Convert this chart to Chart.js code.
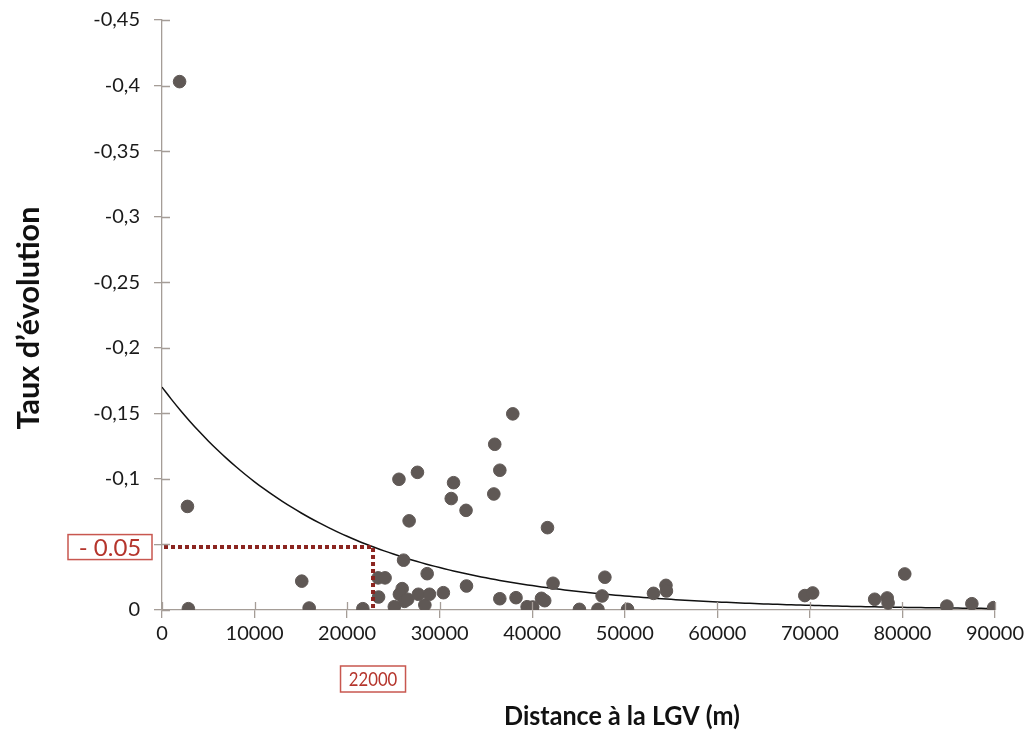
<!DOCTYPE html>
<html>
<head>
<meta charset="utf-8">
<script src="https://cdn.jsdelivr.net/npm/chart.js@4"></script>
<style>
  html, body { margin: 0; padding: 0; background: #fff; }
  canvas { display: block; }
</style>
</head>
<body>
<canvas id="myChart" width="1028" height="731"></canvas>
<script>
// distance to the LGV (m) and rate of change
const distances = [1900, 2750, 2850, 15100, 15900, 21700, 23350, 24100, 23400, 25100,
  25600, 26100, 25950, 25650, 26200, 26550, 26700, 27600, 27700, 28650,
  28400, 28900, 30400, 31250, 31500, 32850, 32900, 35850, 35950, 36500,
  36500, 37900, 38250, 39450, 40050, 40000, 41000, 41350, 41650, 42250,
  45100, 47100, 47850, 47550, 50300, 53100, 54450, 54500, 69450, 70300,
  77000, 78350, 78450, 80250, 84800, 87500, 89850];
const rates = [-0.403, -0.079, -0.001, -0.022, -0.0015, -0.001, -0.0245, -0.0245, -0.0099, -0.0025,
  -0.0997, -0.038, -0.0163, -0.012, -0.0066, -0.0082, -0.068, -0.105, -0.012, -0.0277,
  -0.0038, -0.012, -0.0132, -0.085, -0.0971, -0.076, -0.0183, -0.0885, -0.1264, -0.1066,
  -0.0086, -0.1496, -0.0094, -0.0025, -0.0023, -0.0003, -0.0089, -0.0071, -0.0628, -0.0204,
  -0.0005, -0.0005, -0.025, -0.0107, -0.0005, -0.0127, -0.0188, -0.0145, -0.011, -0.013,
  -0.0082, -0.0092, -0.0053, -0.0275, -0.003, -0.0048, -0.0018];

// exponential trendline y = a * exp(b * x)
const trendA = -0.17;
const trendB = -0.0000553;

// reading marked on the chart
const markX = 22800;
const markY = -0.048;
const markXLabel = '22000';
const markYLabel = '- 0.05';

const xTitle = 'Distance à la LGV (m)';
const yTitle = 'Taux d’évolution';

const points = [];
for (let i in distances) {
  points.push({x: distances[i], y: rates[i]});
}
const trend = [];
for (let x = 0; x <= 90000; x += 1000) {
  trend.push({x: x, y: trendA * Math.exp(trendB * x)});
}

const axisColor = '#a59d97';
const markColor = '#8b2520';
const boxColor = '#c8574f';

// ticks in Excel cross the axis line, draw the inner half too
const crossTicks = {
  id: 'crossTicks',
  afterDraw(chart) {
    const c = chart.ctx;
    const xs = chart.scales.x, ys = chart.scales.y;
    c.save();
    c.strokeStyle = axisColor;
    c.lineWidth = 1.3;
    c.beginPath();
    xs.ticks.forEach(t => {
      const px = Math.round(xs.getPixelForValue(t.value)) + 0.5;
      c.moveTo(px, ys.bottom - 8);
      c.lineTo(px, ys.bottom);
    });
    ys.ticks.forEach(t => {
      const py = Math.round(ys.getPixelForValue(t.value)) + 0.5;
      c.moveTo(xs.left, py);
      c.lineTo(xs.left + 8, py);
    });
    c.stroke();

    // axis titles (a bit narrower than Lato, like the original font)
    c.fillStyle = '#111';
    c.textAlign = 'center';
    c.textBaseline = 'middle';
    c.font = 'bold 27px Lato';
    c.save();
    c.translate(622, 716);
    c.scale(0.93, 1);
    c.fillText(xTitle, 0, 0);
    c.restore();
    c.font = 'bold 30px Lato';
    c.save();
    c.translate(29, 318);
    c.rotate(-Math.PI / 2);
    c.scale(1.02, 1);
    c.fillText(yTitle, 0, 0);
    c.restore();
    c.restore();
  }
};

const markPlugin = {
  id: 'markPlugin',
  afterDatasetsDraw(chart) {
    const c = chart.ctx;
    const xs = chart.scales.x, ys = chart.scales.y;
    const px = xs.getPixelForValue(markX);
    const py = ys.getPixelForValue(markY);
    c.save();
    c.strokeStyle = markColor;
    c.lineWidth = 4;
    c.setLineDash([4, 3]);
    c.beginPath();
    c.moveTo(xs.left + 2, py);
    c.lineTo(px, py);
    c.lineTo(px, ys.bottom - 2);
    c.stroke();
    c.setLineDash([]);

    c.textAlign = 'center';
    c.textBaseline = 'middle';
    // y box
    c.font = '24px Lato';
    let w = 84, h = 25;
    let bx = xs.left - 10 - w, by = py - h / 2;
    c.fillStyle = '#fff';
    c.fillRect(bx, by, w, h);
    c.strokeStyle = boxColor;
    c.lineWidth = 1.5;
    c.strokeRect(bx, by, w, h);
    c.fillStyle = '#b5352c';
    c.fillText(markYLabel, bx + w / 2, by + h / 2 + 1);
    // x box
    c.font = '19px Lato';
    w = 65; h = 26;
    bx = px - w / 2; by = 666;
    c.strokeStyle = boxColor;
    c.strokeRect(bx, by, w, h);
    c.fillStyle = '#b5352c';
    c.save();
    c.translate(bx + w / 2, by + h / 2 + 1);
    c.scale(0.88, 1);
    c.fillText(markXLabel, 0, 0);
    c.restore();
    c.restore();
  }
};

function commaLabel(v) {
  if (Math.abs(v) < 1e-9) return '0';
  return String(Math.round(v * 100) / 100).replace('.', ',');
}

new Chart(document.getElementById('myChart').getContext('2d'), {
  type: 'scatter',
  data: {
    datasets: [{
      label: 'Taux',
      data: points,
      backgroundColor: '#5f5855',
      borderColor: '#5f5855',
      pointRadius: 6.3,
      pointHoverRadius: 6.3,
      order: 1
    }, {
      type: 'line',
      label: 'Tendance',
      data: trend,
      borderColor: '#111',
      borderWidth: 1.5,
      pointRadius: 0,
      fill: false,
      tension: 0.4,
      order: 2
    }]
  },
  options: {
    responsive: false,
    animation: false,
    layout: { padding: { top: 20, right: 33, left: 0, bottom: 0 } },
    plugins: {
      legend: { display: false },
      tooltip: { enabled: false }
    },
    scales: {
      x: {
        type: 'linear',
        min: 0,
        max: 90000,
        ticks: {
          stepSize: 10000,
          color: '#1a1a1a',
          font: { family: 'Lato', size: 20 },
          padding: 4,
          maxRotation: 0,
          callback: v => String(v)
        },
        grid: { drawOnChartArea: false, tickLength: 8, color: axisColor, lineWidth: 1.3 },
        border: { color: axisColor, width: 1.3 },
        afterFit(scale) { scale.height = 121; scale.paddingLeft = 0; scale.paddingRight = 0; }
      },
      y: {
        type: 'linear',
        reverse: true,
        min: -0.45,
        max: 0,
        ticks: {
          stepSize: 0.05,
          color: '#1a1a1a',
          font: { family: 'Lato', size: 20 },
          padding: 14,
          callback: v => commaLabel(v)
        },
        grid: { drawOnChartArea: false, tickLength: 8, color: axisColor, lineWidth: 1.3 },
        border: { color: axisColor, width: 1.3 },
        afterFit(scale) { scale.width = 162; scale.paddingTop = 0; scale.paddingBottom = 0; }
      }
    }
  },
  plugins: [crossTicks, markPlugin]
});
</script>
</body>
</html>
